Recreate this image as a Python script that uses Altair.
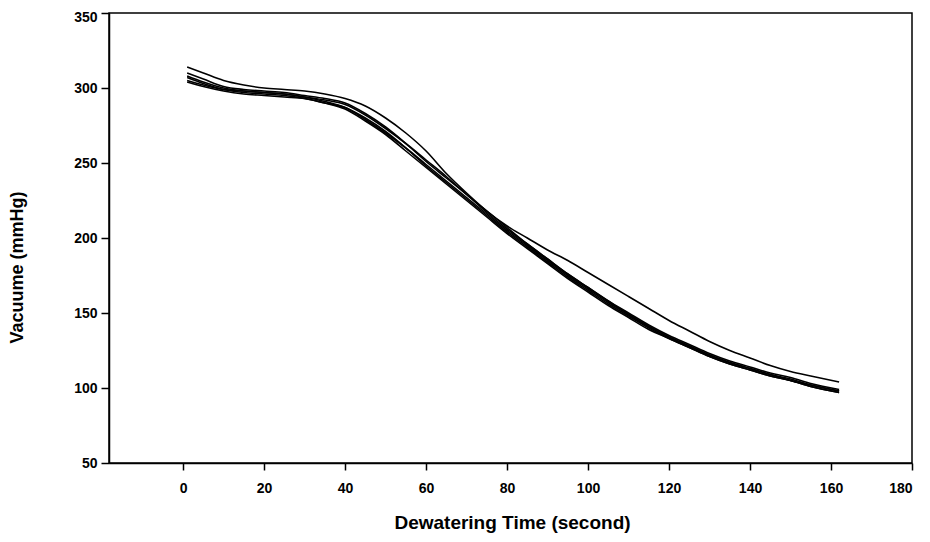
import altair as alt
import pandas as pd

# Time points (seconds)
time_s = [1, 5, 10, 15, 20, 25, 30, 35, 40, 45, 50, 55, 60, 65, 70, 75, 80,
          85, 90, 95, 100, 105, 110, 115, 120, 125, 130, 135, 140, 145, 150, 155, 162]

# Vacuum (mmHg) for each run
run_a = [314, 310, 305, 302, 300, 299, 298, 296, 293, 288, 280, 270, 258, 243, 230, 218, 208,
         200, 192, 185, 177, 169, 161, 153, 145, 138, 131, 125, 120, 115, 111, 108, 104]
run_b = [310, 306, 301, 299, 298, 297, 295, 293, 290, 283, 274, 263, 251, 240, 229, 217, 206,
         196, 186, 176, 167, 158, 150, 142, 135, 129, 123, 118, 114, 110, 107, 103, 99]
run_c = [308, 304, 300, 298, 297, 296, 294, 291, 287, 280, 271, 260, 248, 237, 226, 215, 204,
         194, 184, 174, 165, 156, 148, 140, 133, 127, 121, 116, 112, 108, 105, 101, 97]
run_d = [307, 303, 299, 297, 296, 295, 293, 290, 286, 278, 269, 258, 247, 236, 225, 214, 203,
         193, 183, 173, 164, 155, 147, 139, 133, 127, 121, 116, 112, 108, 105, 101, 97]
run_e = [305, 302, 299, 298, 297, 296, 294, 292, 289, 282, 273, 263, 252, 241, 229, 218, 207,
         196, 186, 176, 167, 158, 149, 141, 134, 128, 122, 117, 113, 109, 106, 102, 98]
run_f = [304, 301, 298, 296, 295, 294, 293, 290, 287, 279, 270, 260, 249, 238, 227, 216, 205,
         195, 185, 175, 166, 157, 149, 141, 134, 128, 122, 117, 113, 109, 105, 102, 98]

runs = {"A": run_a, "B": run_b, "C": run_c, "D": run_d, "E": run_e, "F": run_f}

x_ticks = [0, 20, 40, 60, 80, 100, 120, 140, 160, 180]
y_ticks = [50, 100, 150, 200, 250, 300, 350]

rows = []
for name, vals in runs.items():
    for t, v in zip(time_s, vals):
        rows.append({"run": name, "t": t, "v": v})
df = pd.DataFrame(rows)

FONT = "Liberation Sans"

chart = alt.Chart(df).mark_line(color="black", strokeWidth=1.6, interpolate="monotone").encode(
    x=alt.X("t:Q",
            scale=alt.Scale(domain=[-18.3, 180], nice=False, zero=False),
            axis=alt.Axis(values=x_ticks, title="Dewatering Time (second)",
                          grid=False, tickSize=7, labelPadding=11, labelFontSize=14,
                          titleX=403, titleY=59, titleBaseline="middle",
                          titleFontSize=19)),
    y=alt.Y("v:Q",
            scale=alt.Scale(domain=[50, 350], nice=False, zero=False),
            axis=alt.Axis(values=y_ticks, title="Vacuume (mmHg)",
                          grid=False, tickSize=8, labelPadding=4, labelFontSize=14,
                          labelOffset={"condition": {"test": "datum.value == 350", "value": 4},
                                       "value": 0},
                          titleX=-92, titleY=254, titleAngle=-90,
                          titleAlign="center", titleBaseline="middle",
                          titleFontSize=18)),
    detail="run:N",
).properties(
    width=803, height=450,
    autosize=alt.AutoSizeParams(type="none"),
    padding={"left": 101, "top": 5, "right": 10, "bottom": 71},
).configure_view(
    stroke="black", strokeWidth=1.5
).configure_axis(
    domainColor="black", domainWidth=1.5, tickColor="black", tickWidth=1.5,
    labelFont=FONT, labelFontWeight="bold", labelColor="black",
    titleFont=FONT, titleFontWeight="bold", titleColor="black",
)

chart.save("out.html", embed_options={"renderer": "svg", "actions": False})
